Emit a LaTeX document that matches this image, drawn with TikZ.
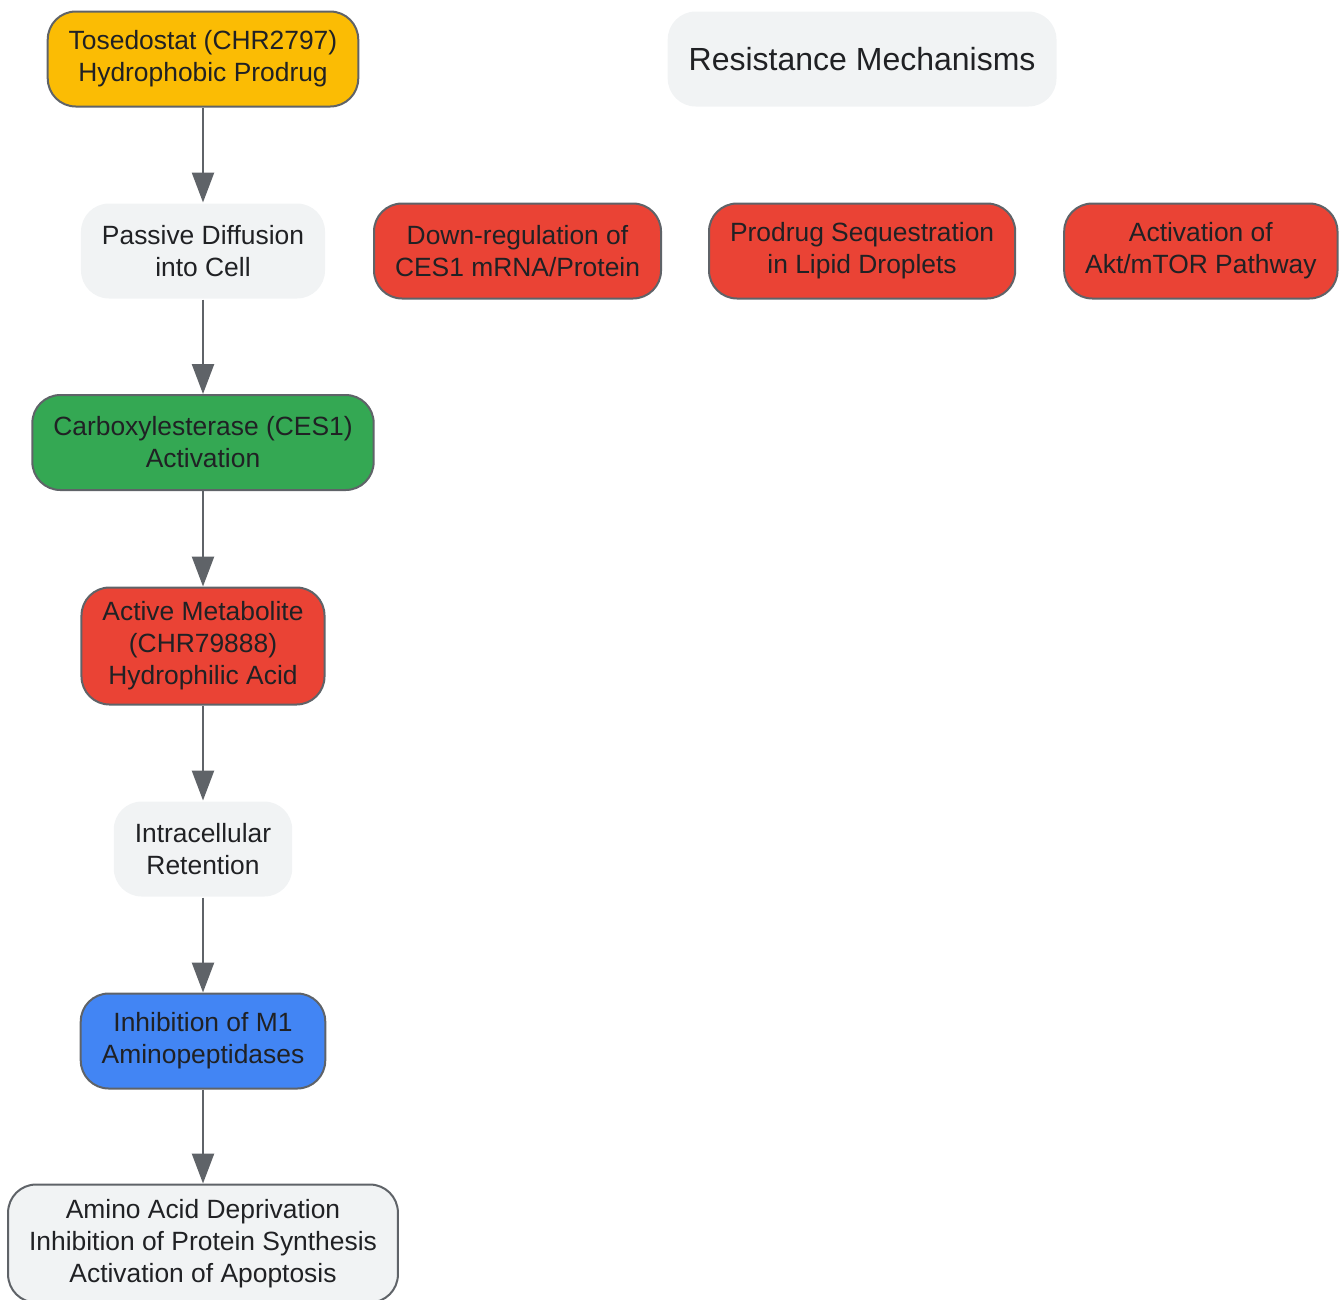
\documentclass[tikz,border=0pt]{standalone}
\usepackage{fontspec}
\setmainfont{Liberation Sans}
\usetikzlibrary{arrows.meta,positioning}
\definecolor{edgegray}{HTML}{5F6368}
\definecolor{boxgray}{HTML}{F1F3F4}
\definecolor{textdark}{HTML}{202124}
\definecolor{drugyellow}{HTML}{FBBC04}
\definecolor{cesgreen}{HTML}{34A853}
\definecolor{hitred}{HTML}{EA4335}
\definecolor{inhblue}{HTML}{4285F4}
\tikzset{
  >={Triangle[length=30pt,width=22pt]},
  block/.style={draw=edgegray,line width=2pt,rounded corners=28pt,align=center,inner xsep=21pt,inner ysep=4pt,minimum height=95pt,text=textdark,font=\fontsize{26.4}{32}\selectfont},
  plain/.style={block,draw=none,fill=boxgray},
  arrow/.style={->,line width=2.5pt,color=edgegray},
}

\begin{document}
\begin{tikzpicture}[node distance=95pt]
			\useasboundingbox (0pt,0pt) rectangle (1340pt,-1299pt);
			\node[block,fill=drugyellow] (drug) at (203pt,-59pt) {Tosedostat (CHR2797)\\Hydrophobic Prodrug};
			\node[plain,below=of drug] (diffusion) {Passive Diffusion\\into Cell};
			\node[block,fill=cesgreen,below=94.5pt of diffusion] (ces) {Carboxylesterase (CES1)\\Activation};
			\node[block,fill=hitred,minimum height=117pt,below=95.5pt of ces] (metab) {Active Metabolite\\(CHR79888)\\Hydrophilic Acid};
			\node[plain,below=of metab] (retain) {Intracellular\\Retention};
			\node[block,fill=inhblue,below=of retain] (inhib) {Inhibition of M1\\Aminopeptidases};
			\node[block,fill=boxgray,minimum height=118pt,below=94pt of inhib] (outcome) {Amino Acid Deprivation\\Inhibition of Protein Synthesis\\Activation of Apoptosis};
			\node[block,fill=hitred,right=47pt of diffusion] (downreg) {Down-regulation of\\CES1 mRNA/Protein};
			\node[block,fill=hitred,right=46pt of downreg] (sequest) {Prodrug Sequestration\\in Lipid Droplets};
			\node[block,fill=hitred,right=47pt of sequest] (akt) {Activation of\\Akt/mTOR Pathway};
			\node[plain,font=\fontsize{32}{38}\selectfont,above=95pt of sequest] (resist) {Resistance Mechanisms};
			\draw[arrow] (drug) -- (diffusion);
			\draw[arrow] (diffusion) -- (ces);
			\draw[arrow] (ces) -- (metab);
			\draw[arrow] (metab) -- (retain);
			\draw[arrow] (retain) -- (inhib);
			\draw[arrow] (inhib) -- (outcome);
		\end{tikzpicture}
\end{document}
